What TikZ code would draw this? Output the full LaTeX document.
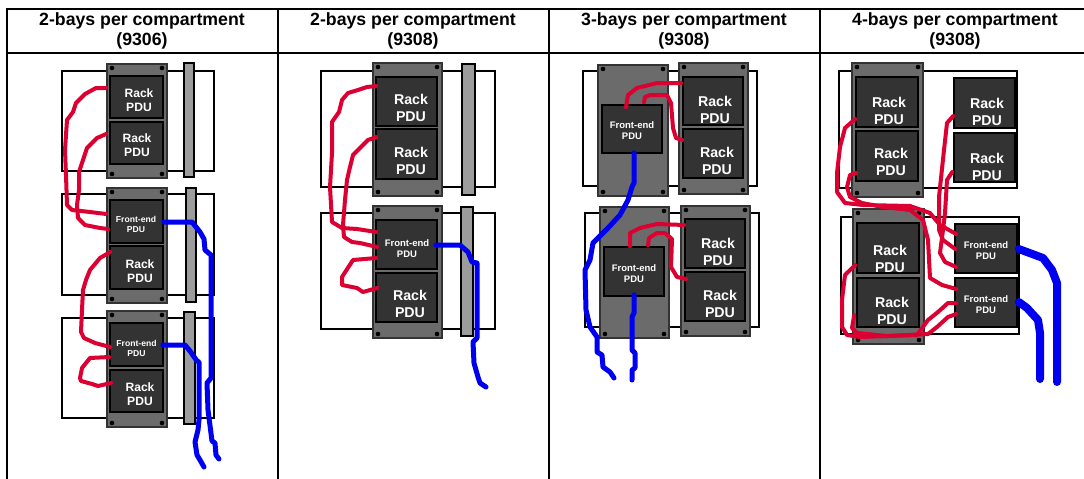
\documentclass[tikz,border=0pt]{standalone}
\usepackage{fontspec}
\setmainfont{Liberation Sans}
\usetikzlibrary{calc}
\definecolor{pdudark}{HTML}{333333}
\definecolor{chassisgray}{HTML}{6B6B6B}
\definecolor{bargray}{HTML}{9C9C9C}
\definecolor{cablered}{HTML}{DC0032}
\definecolor{cableblue}{HTML}{0000F0}
\tikzset{
  shelf/.style={draw=black, line width=1.5pt, fill=white},
  chassis/.style={draw=black!80, line width=2pt, fill=chassisgray},
  railbar/.style={draw=black, line width=1.5pt, fill=bargray},
  pdubox/.style={draw=black, line width=1.6pt, fill=pdudark, inner sep=0pt},
  pdutext/.style={text=white, font=\bfseries, align=center, inner sep=0pt},
  hdrtext/.style={font=\bfseries\fontsize{17.7}{20}\selectfont, align=center, inner sep=0pt},
  redcable/.style={draw=cablered, line width=4pt, line join=round, line cap=round},
  bluecable/.style={draw=cableblue, line width=5pt, line join=round, line cap=round},
  bluefat/.style={bluecable, line width=8pt}
}
% screws in the corners of one chassis
\newcommand{\chassisbox}[4]{
    \draw[chassis] (#1,#2) rectangle (#3,#4);
    \foreach \sx/\sy in {#1+5/#2+4, #3-5/#2+4, #1+5/#4-4, #3-5/#4-4}
        \fill[black] (\sx,\sy) circle (2.3pt);
}
\newcommand{\rackfont}{\fontsize{12.1}{14}\selectfont}
\newcommand{\rackfontb}{\fontsize{14.2}{17.5}\selectfont}
\newcommand{\frontfont}{\fontsize{8.6}{10}\selectfont}
\newcommand{\frontfontb}{\fontsize{9.5}{11}\selectfont}

\begin{document}
\begin{tikzpicture}[x=1pt, y=-1pt]
    \useasboundingbox (0,0) rectangle (1084,479);
    \fill[white] (0,0) rectangle (1084,479);

    % Table
    \draw[line width=1.5pt] (7,479) -- (7,9) -- (1084,9);
    \draw[line width=1.5pt] (7,53) -- (1084,53);
    \foreach \cx in {278,549,820}
        \draw[line width=1.5pt] (\cx,9) -- (\cx,479);
    \node[hdrtext] (head1) at (142,31) {2-bays per compartment\\(9306)};
    \node[hdrtext] (head2) at (413,31) {2-bays per compartment\\(9308)};
    \node[hdrtext] (head3) at (684,31) {3-bays per compartment\\(9308)};
    \node[hdrtext] (head4) at (955,31) {4-bays per compartment\\(9308)};

    % Shelves
    \foreach \xa/\ya/\xb/\yb in {62/71/214/171, 62/194/214/295, 62/318/214/418,
        321/71/495/187, 321/213/495/329,
        583/71/757/186, 585/213/759/327,
        839/71/1017/188, 841/217/1019/334}
        \draw[shelf] (\xa,\ya) rectangle (\xb,\yb);

    % Bars
    \foreach \xa/\ya/\xb/\yb in {184/63/194/177, 186/188/196/302, 184/312/195/424,
        462/64/475/195, 461/207/473/336}
        \draw[railbar] (\xa,\ya) rectangle (\xb,\yb);

    % Chassis
    \chassisbox{107}{64}{167}{178}
    \chassisbox{107}{188}{167}{303}
    \chassisbox{107}{311}{167}{427}
    \chassisbox{373}{63}{442}{196}
    \chassisbox{373}{206}{442}{338}
    \chassisbox{598}{65}{668}{196}
    \chassisbox{679}{63}{748}{194}
    \chassisbox{600}{207}{669}{338}
    \chassisbox{681}{206}{750}{336}
    \chassisbox{852}{63}{923}{197}
    \chassisbox{853}{209}{924}{344}

    % PDU boxes: name/corners
    \foreach \nm/\xa/\ya/\xb/\yb in {
        a1/110/76/163/118, a2/110/122/163/164, af1/110/200/163/243, a3/110/246/163/289,
        af2/110/323/163/366, a4/110/370/163/412,
        b1/376/77/437/126, b2/376/129/437/179, bf1/376/220/437/269, b3/376/273/437/322,
        cf1/602/105/662/153, c1/683/77/743/125, c2/683/129/743/178,
        cf2/604/247/664/296, c3/685/219/745/268, c4/685/272/745/321,
        d1/856/77/918/127, d2/856/131/918/181, d3/954/78/1015/128, d4/954/133/1015/182,
        d5/857/223/919/273, d6/857/278/919/327, df1/955/224/1017/273, df2/955/278/1017/327
    } {
        \node[pdubox, minimum width={(\xb-\xa)*1pt}, minimum height={(\yb-\ya)*1pt}]
            (\nm) at ({(\xa+\xb)/2},{(\ya+\yb)/2}) {};
    }

    % PDU labels
    \foreach \nm/\tx/\ty in {a1/139/100, a2/137/145, a3/140/271, a4/140/394}
        \node[pdutext, font=\bfseries\rackfont] (\nm t) at (\tx,\ty) {Rack\\PDU};
    \foreach \nm/\tx/\ty in {b1/411/108, b2/411/161, b3/410/304,
        c1/715/110, c2/717/161, c3/718/252, c4/720/304,
        d1/889/111, d2/891/162, d3/987/112, d4/987/167,
        d5/890/259, d6/892/311}
        \node[pdutext, font=\bfseries\rackfontb] (\nm t) at (\tx,\ty) {Rack\\PDU};
    \foreach \nm/\tx/\ty in {af1/136/224, af2/136.5/348}
        \node[pdutext, font=\bfseries\frontfont] (\nm t) at (\tx,\ty) {Front-end\\PDU};
    \foreach \nm/\tx/\ty in {bf1/407/249, cf1/632/131, cf2/634/274, df1/986/251, df2/986/305}
        \node[pdutext, font=\bfseries\frontfontb] (\nm t) at (\tx,\ty) {Front-end\\PDU};

    % -----------------------------------
    % Red cables
    % -----------------------------------
    \draw[redcable] ($(a1.west)+(-3,-9)$) -- (96,88) -- (85,94) -- (76,103) -- (73,112) -- (67,120) -- (66,135) -- (65,150) -- (66,175) -- (67,205) -- (72,210) -- (90,212) -- ($(af1.west)+(-3,-7.5)$);
    \draw[redcable] ($(a2.west)+(-3,-9)$) -- (97,138) -- (87,148) -- (83,160) -- (79,172) -- (79,190) -- (77,205) -- (78,218) -- (85,225) -- (100,228) -- ($(af1.west)+(-1,7.5)$);
    \draw[redcable] ($(a3.west)+(1,-15.5)$) -- (100,258) -- (90,270) -- (86,280) -- (83,290) -- (82,310) -- (81,332) -- (84,338) -- (95,343) -- ($(af2.west)+(1,2.5)$);
    \draw[redcable] ($(af2.west)+(0,12.5)$) -- (90,358) -- (82,368) -- (80,378) -- (81,381) -- (92,384) -- (98,386) -- ($(a4.west)+(2,-8)$);

    \draw[redcable] ($(b1.west)+(1,-15.5)$) -- (367,87) -- (358,90) -- (348,93) -- (342,100) -- (339,112) -- (332,122) -- (332,153) -- (330,187) -- (332,222) -- (342,228) -- (357,229) -- ($(bf1.west)+(1,-12.5)$);
    \draw[redcable] ($(b2.west)+(1,-17)$) -- (368,140) -- (353,155) -- (350,167) -- (347,180) -- (345,200) -- (343,225) -- (344,237) -- (352,242) -- (360,243) -- ($(bf1.west)+(2,2.5)$);
    \draw[redcable] ($(bf1.west)+(1,13.5)$) -- (353,260) -- (342,277) -- (342,285) -- (357,288) -- (363,292) -- ($(b3.west)+(2,-9.5)$);

    \draw[redcable] ($(cf1.north)+(-6,3)$) -- (628,95) -- (637,88) -- (657,83) -- ($(c1.west)+(-1,-18)$);
    \draw[redcable] ($(cf1.north)+(12,-2)$) -- (645,97) -- (650,95) -- (667,95) -- (671,103) -- (673,128) -- (676,138) -- ($(c2.west)+(0,-13.5)$);
    \draw[redcable] ($(cf2.north)+(-4,0)$) -- (630,233) -- (640,228) -- (657,224) -- ($(c3.west)+(0,-18.5)$);
    \draw[redcable] ($(cf2.north)+(14,-1)$) -- (649,238) -- (657,233) -- (665,233) -- (672,239) -- (671,267) -- (677,277) -- ($(c4.west)+(2,-17.5)$);

    \draw[redcable] ($(d1.west)+(0,17)$) -- (845,128) -- (840,147) -- (837,173) -- (837,192) -- (845,203) -- (863,205) -- (910,206) -- (930,213) -- (940,225) -- ($(df1.west)+(2,-14.5)$);
    \draw[redcable] ($(d2.west)+(1,17)$) -- (850,175) -- (847,187) -- (850,197) -- (862,203) -- (883,207) -- (910,210) -- (923,220) -- (928,240) -- (930,278) -- (942,285) -- ($(df2.west)+(2,-13.5)$);
    \draw[redcable] ($(d3.west)+(0,13)$) -- (947,123) -- (944,150) -- (939,197) -- (939,230) -- (943,240) -- ($(df1.west)+(1,0.5)$);
    \draw[redcable] ($(d4.west)+(-1,14.5)$) -- (947,180) -- (945,213) -- (943,230) -- (940,253) -- (945,262) -- ($(df1.west)+(2,18.5)$);
    \draw[redcable] ($(d5.west)+(-1,17)$) -- (845,275) -- (842,300) -- (842,327) -- (847,335) -- (860,337) -- (917,335) -- (928,320) -- (938,312) -- (948,303) -- ($(df2.west)+(2,0.5)$);
    \draw[redcable] ($(d6.west)+(-2,12.5)$) -- (852,328) -- (857,333) -- (887,336) -- (928,334) -- (937,327) -- (948,317) -- ($(df2.west)+(2,11.5)$);

    % -----------------------------------
    % Blue cables
    % -----------------------------------
    \coordinate (enda1) at (219,459);
    \coordinate (enda2) at (204,467);
    \coordinate (endb1) at (486,387);
    \coordinate (endc1) at (614,378);
    \coordinate (endc2) at (632,380);
    \coordinate (endd1) at (1057,382);
    \coordinate (endd2) at (1040,379);
    \draw[bluecable] ($(af1.east)+(0,0.5)$) -- (192,222) -- (200,232) -- (204,239) -- (205,250) -- (211,255) -- (211,378) -- (207,383) -- (208,410) -- (212,441) -- (215,443) -- (216,455) -- (enda1);
    \draw[bluecable] ($(af2.east)+(-1,0.5)$) -- (185,345) -- (190,351) -- (197,361) -- (199,362) -- (199,420) -- (198,430) -- (195,442) -- (197,455) -- (200,460) -- (enda2);
    \draw[bluecable] ($(bf1.east)+(-2,0.5)$) -- (460,245) -- (468,252) -- (472,262) -- (477,263) -- (477,338) -- (473,342) -- (474,363) -- (478,377) -- (480,383) -- (endb1);
    \draw[bluecable] ($(cf1.south)+(2,-1)$) -- (634,183) -- (632,187) -- (628,200) -- (620,215) -- (608,228) -- (593,243) -- (590,260) -- (585,270) -- (586,310) -- (590,327) -- (597,337) -- (597,352) -- (602,355) -- (603,367) -- (610,372) -- (endc1);
    \draw[bluecable] ($(cf2.south)+(0,-2)$) -- (634,313) -- (632,317) -- (632,350) -- (635,353) -- (635,368) -- (632,370) -- (endc2);
    \draw[bluefat] ($(df1.east)+(1,0.5)$) -- (1043,258) -- (1052,270) -- (1057,283) -- (1057,327) -- (endd1);
    \draw[bluefat] ($(df2.east)+(1,-0.5)$) -- (1027,308) -- (1038,320) -- (1040,333) -- (endd2);
\end{tikzpicture}
\end{document}
